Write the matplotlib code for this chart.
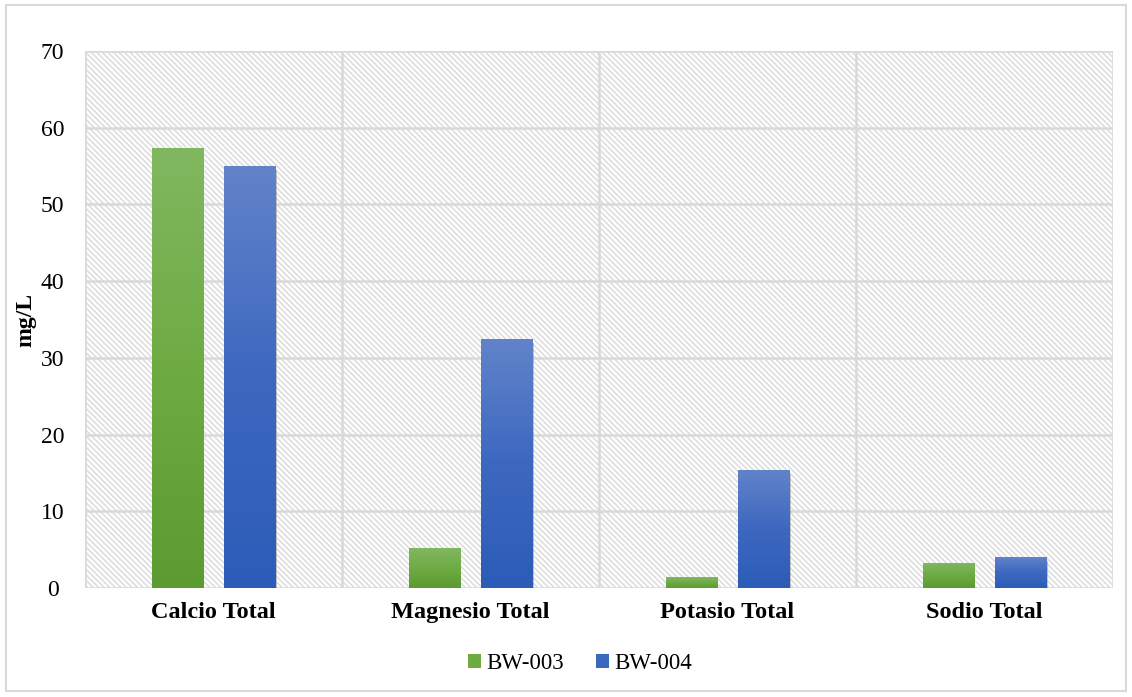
import numpy as np
import matplotlib
matplotlib.use("Agg")
import matplotlib.pyplot as plt
from matplotlib.patches import Rectangle, Patch
from matplotlib.colors import LinearSegmentedColormap
import matplotlib.patheffects as pe

categories = ["Calcio Total", "Magnesio Total", "Potasio Total", "Sodio Total"]
series_names = ["BW-003", "BW-004"]
bw003 = [57.4, 5.2, 1.4, 3.3]
bw004 = [55.0, 32.5, 15.4, 4.0]
y_ticks = [0, 10, 20, 30, 40, 50, 60, 70]

plt.rcParams["font.family"] = ["Liberation Serif", "DejaVu Serif"]
plt.rcParams["hatch.linewidth"] = 1.2

fig = plt.figure(figsize=(11.32, 6.97), dpi=100)
ax = fig.add_axes([0.0751, 0.1564, 0.9081, 0.7704])

x = np.arange(len(categories))
width = 0.2
offset = 0.14

# hatched plot background
bg = Rectangle((0, 0), 1, 1, transform=ax.transAxes, facecolor="white",
               edgecolor="#dedede", hatch="\\" * 6, linewidth=0, zorder=0)
ax.add_patch(bg)

# grid lines
for t in y_ticks:
    ax.axhline(t, color="#d9d9d9", lw=1.8, zorder=1)
for b in np.arange(-0.5, len(categories), 1.0):
    ax.axvline(b, color="#d9d9d9", lw=1.8, zorder=1)

green_cmap = LinearSegmentedColormap.from_list("g", ["#5b9b31", "#6fab43", "#80b860"])
blue_cmap = LinearSegmentedColormap.from_list("b", ["#2c5cb8", "#3d68c0", "#6283ca"])
grad = np.linspace(0, 1, 256).reshape(-1, 1)


def gradient_bar(xc, h, cmap, base_color, shadow):
    x0, x1 = xc - width / 2, xc + width / 2
    r = Rectangle((x0, 0), x1 - x0, h, facecolor=base_color, edgecolor="none",
                  zorder=3)
    if shadow:
        r.set_path_effects([
            pe.SimplePatchShadow(offset=(1.5, -3.0), shadow_rgbFace="#666666", alpha=0.35),
            pe.SimplePatchShadow(offset=(0.8, -1.8), shadow_rgbFace="#555555", alpha=0.45),
            pe.Normal()])
    ax.add_patch(r)
    im = ax.imshow(grad, extent=[x0, x1, 0, h], origin="lower", cmap=cmap,
                   aspect="auto", zorder=3.5, interpolation="bilinear")
    clip = Rectangle((x0, 0), x1 - x0, h, transform=ax.transData)
    im.set_clip_path(clip)


for i in range(len(categories)):
    gradient_bar(x[i] - offset, bw003[i], green_cmap, "#6fab43", False)
    gradient_bar(x[i] + offset, bw004[i], blue_cmap, "#3d68c0", True)

ax.set_xlim(-0.5, len(categories) - 0.5)
ax.set_ylim(0, 70)
ax.set_aspect("auto")

for s in ax.spines.values():
    s.set_visible(False)

ax.set_xticks(x)
ax.set_xticklabels(categories, fontsize=17.5, fontweight="bold")
ax.set_yticks(y_ticks)
ax.set_yticklabels([str(t) for t in y_ticks], fontsize=17)
ax.tick_params(axis="both", length=0)
ax.tick_params(axis="x", pad=10)
ax.tick_params(axis="y", pad=23.4)
for lbl in ax.get_yticklabels():
    lbl.set_horizontalalignment("center")
ax.set_ylabel("mg/L", fontsize=17, fontweight="bold", labelpad=0)
ax.yaxis.set_label_coords(-0.047, 0.5)

handles = [Patch(facecolor="#6fab43", edgecolor="none"),
           Patch(facecolor="#3d68c0", edgecolor="none")]
fig.legend(handles, series_names, loc="center", bbox_to_anchor=(0.512, 0.048),
           ncol=2, frameon=False, fontsize=16.5, handlelength=0.6, handleheight=0.6,
           handletextpad=0.2, columnspacing=1.4)

# figure outline
fig.patches.append(Rectangle((0.005, 0.008), 0.99, 0.985, transform=fig.transFigure,
                             facecolor="none", edgecolor="#d9d9d9", lw=1.5))

fig.savefig("out.png", dpi=100)
